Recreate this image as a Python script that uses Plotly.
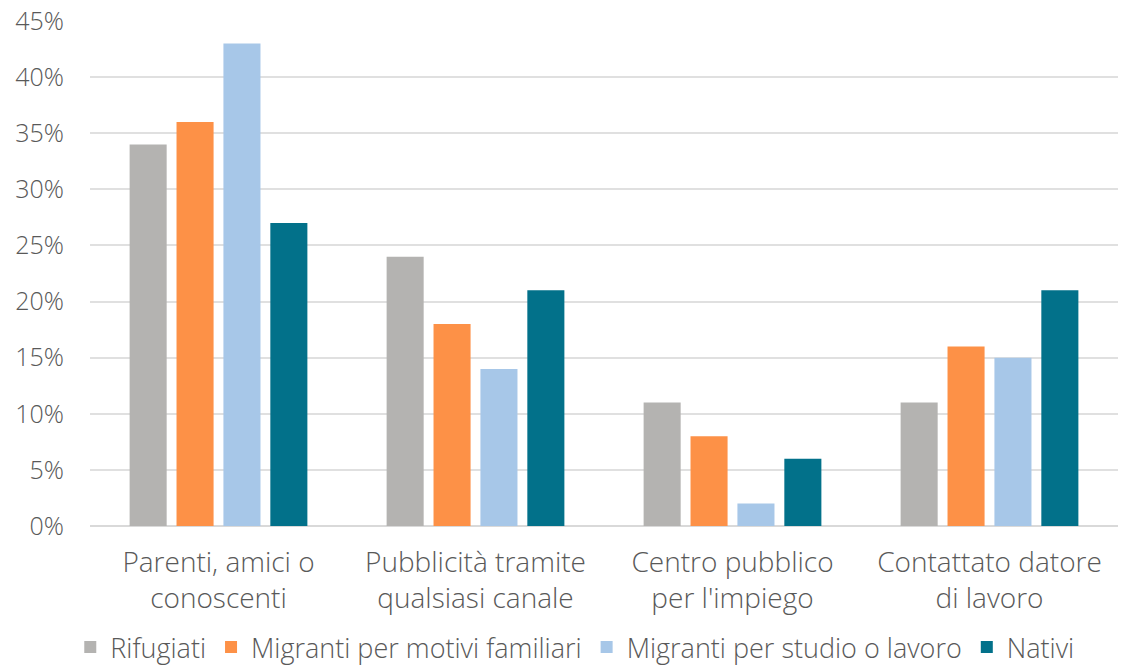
import plotly.graph_objects as go

categories = ["Parenti, amici o<br>conoscenti", "Pubblicità tramite<br>qualsiasi canale",
              "Centro pubblico<br>per l'impiego", "Contattato datore<br>di lavoro"]
series_names = ["Rifugiati", "Migranti per motivi familiari", "Migranti per studio o lavoro", "Nativi"]
rifugiati = [34, 24, 11, 11]
migranti_familiari = [36, 18, 8, 16]
migranti_studio = [43, 14, 2, 15]
nativi = [27, 21, 6, 21]
colors = ["#b4b3b1", "#fd9147", "#a7c7e8", "#02718a"]

fig = go.Figure()
for name, vals, col in zip(series_names, [rifugiati, migranti_familiari, migranti_studio, nativi], colors):
    fig.add_trace(go.Bar(x=categories, y=vals, name=name, marker=dict(color=col, line=dict(width=0))))

font_fam = "'Open Sans', Lato, sans-serif"
fig.update_layout(
    width=1127, height=672,
    margin=dict(l=90, r=9, t=21, b=146, autoexpand=False),
    paper_bgcolor="white", plot_bgcolor="white",
    barmode="group", bargap=0.27, bargroupgap=0.21,
    font=dict(family=font_fam, size=25, color="#595959", weight=300),
    showlegend=True,
    legend=dict(orientation="h", x=0.51, xanchor="center", xref="container",
                y=0.0, yanchor="bottom", yref="container",
                font=dict(size=27, color="#595959", weight=300), traceorder="normal",
                itemwidth=30),
)
fig.update_yaxes(range=[0, 45], dtick=5, ticksuffix="%", showgrid=True, gridcolor="#e0e0e0",
                 gridwidth=1.5, zeroline=True, zerolinecolor="#d9d9d9", zerolinewidth=1.5,
                 showline=False, ticks="", ticklabelstandoff=25,
                 tickfont=dict(size=25, color="#595959", weight=300))
fig.update_xaxes(showline=False, ticks="", ticklabelstandoff=17,
                 tickfont=dict(size=28, color="#595959", weight=300))

fig.write_html("out.html", config={"displayModeBar": False},
               post_script="document.body.style.margin='0';document.body.style.overflow='hidden';")
